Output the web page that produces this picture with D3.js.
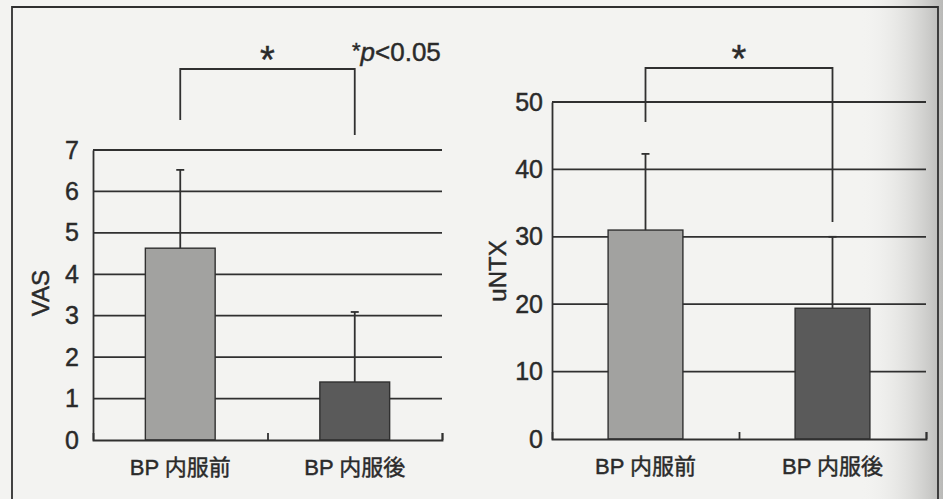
<!DOCTYPE html>
<html>
<head>
<meta charset="utf-8">
<script src="https://cdn.jsdelivr.net/npm/d3@7"></script>
<style>
  html, body { margin: 0; padding: 0; background: #f3f3f1; }
  svg { display: block; }
  text { font-family: "Liberation Sans", Arial, "Noto Sans CJK JP", sans-serif; fill: #2a2a2a; stroke: #2a2a2a; stroke-width: 0.45px; }
</style>
</head>
<body>
<div id="chart"></div>
<script>
// categories and values
const categories = ['BP 内服前', 'BP 内服後'];
const vasMean = [4.63, 1.40];
const vasUpper = [6.52, 3.09];   // mean + SD
const vasTicks = [0, 1, 2, 3, 4, 5, 6, 7];
const ntxMean = [31.0, 19.4];
const ntxUpper = [42.3, 30.0];
const ntxTicks = [0, 10, 20, 30, 40, 50];
const barColors = ['#a2a2a0', '#5a5a5a'];

let width = 943, height = 499;
let ink = '#303030';

let svg = d3.select('#chart')
.append('svg')
.attr('width', width)
.attr('height', height);

// shaded right edge of the scanned page
let defs = svg.append('defs');
let grad = defs.append('linearGradient').attr('id', 'shade');
grad.append('stop').attr('offset', '0%').attr('stop-color', '#f3f3f1').attr('stop-opacity', 0);
grad.append('stop').attr('offset', '100%').attr('stop-color', '#b9b9b7').attr('stop-opacity', 1);
svg.append('rect')
.attr('x', 860).attr('y', 0)
.attr('width', 83).attr('height', height)
.attr('fill', 'url(#shade)');

// outer frame
svg.append('path')
.attr('d', 'M12,' + height + 'V7H938V' + height)
.attr('fill', 'none')
.attr('stroke', ink)
.attr('stroke-width', 1.8);

// draws one bar panel
// cfg - left, right, top, bottom in px, domain max, data, ticks, label, bracket
function drawPanel(cfg) {
  let g = svg.append('g');

  let x = d3.scaleBand()
  .domain(categories)
  .range([cfg.left, cfg.right])
  .paddingInner(0.6)
  .paddingOuter(0.3);

  let xEdge = d3.scaleLinear()
  .domain([0, categories.length])
  .range([cfg.left, cfg.right]);

  let y = d3.scaleLinear()
  .domain([0, cfg.max])
  .range([cfg.bottom, cfg.top]);

  // gridlines
  g.selectAll('.grid')
  .data(cfg.ticks.slice(1))
  .enter()
  .append('line')
  .attr('x1', cfg.left)
  .attr('x2', cfg.right)
  .attr('y1', d => y(d))
  .attr('y2', d => y(d))
  .attr('stroke', ink)
  .attr('stroke-width', 1.8);

  // y axis
  let yAxis = g.append('g')
  .attr('transform', 'translate(' + cfg.left + ',0)')
  .call(d3.axisLeft(y).tickValues(cfg.ticks).tickFormat(d3.format('d')).tickSize(0).tickPadding(cfg.pad));
  yAxis.select('.domain').attr('stroke', ink).attr('stroke-width', 1.8);
  yAxis.selectAll('text')
  .style('font-size', '25px')
  .attr('fill', '#2a2a2a');

  // bars
  g.selectAll('.bar')
  .data(cfg.mean)
  .enter()
  .append('rect')
  .attr('x', (d, i) => x(categories[i]))
  .attr('y', d => y(d))
  .attr('width', x.bandwidth())
  .attr('height', d => y(0) - y(d))
  .attr('fill', (d, i) => barColors[i])
  .attr('stroke', ink)
  .attr('stroke-width', 1.4);

  // error bars (upper only)
  cfg.upper.forEach(function(u, i) {
    let cx = x(categories[i]) + x.bandwidth() / 2;
    g.append('line')
    .attr('x1', cx).attr('x2', cx)
    .attr('y1', y(cfg.mean[i])).attr('y2', y(u))
    .attr('stroke', ink).attr('stroke-width', 1.8);
    g.append('line')
    .attr('x1', cx - 4).attr('x2', cx + 4)
    .attr('y1', y(u)).attr('y2', y(u))
    .attr('stroke', ink).attr('stroke-width', 1.8);
  });

  // x axis with upward ticks at category edges
  let xAxis = g.append('g')
  .attr('transform', 'translate(0,' + cfg.bottom + ')')
  .call(d3.axisBottom(xEdge).tickValues([1, 2]).tickSize(-7).tickFormat(''));
  xAxis.select('.domain').attr('stroke', ink).attr('stroke-width', 1.8);
  xAxis.selectAll('.tick line').attr('stroke', ink).attr('stroke-width', 1.8);

  // category labels
  g.selectAll('.cat')
  .data(categories)
  .enter()
  .append('text')
  .attr('x', d => x(d) + x.bandwidth() / 2)
  .attr('y', cfg.bottom + 35)
  .attr('text-anchor', 'middle')
  .style('font-size', '22px')
  .text(d => d);

  // y label
  g.append('text')
  .attr('transform', 'translate(' + cfg.labelX + ',' + cfg.labelY + ') rotate(-90)')
  .attr('text-anchor', 'middle')
  .attr('dominant-baseline', 'central')
  .style('font-size', '24px')
  .text(cfg.label);

  // significance bracket
  let c0 = x(categories[0]) + x.bandwidth() / 2;
  let c1 = x(categories[1]) + x.bandwidth() / 2;
  let b = cfg.bracket;
  g.append('path')
  .attr('d', 'M' + c0 + ',' + b.leg0 + 'V' + b.top + 'H' + c1 + 'V' + b.leg1)
  .attr('fill', 'none')
  .attr('stroke', ink)
  .attr('stroke-width', 1.8);
  g.append('text')
  .attr('x', (c0 + c1) / 2)
  .attr('y', b.top + 4)
  .attr('text-anchor', 'middle')
  .style('font-size', '38px')
  .text('*');
}

drawPanel({
  left: 93, right: 442, top: 150, bottom: 440,
  max: 7, mean: vasMean, upper: vasUpper, ticks: vasTicks, pad: 14,
  label: 'VAS', labelX: 40, labelY: 293,
  bracket: { top: 69, leg0: 120, leg1: 135 }
});

drawPanel({
  left: 552, right: 926, top: 102, bottom: 439,
  max: 50, mean: ntxMean, upper: ntxUpper, ticks: ntxTicks, pad: 9,
  label: 'uNTX', labelX: 497, labelY: 271,
  bracket: { top: 68, leg0: 122, leg1: 222 }
});

// p-value note
let note = svg.append('text')
.attr('x', 352)
.attr('y', 61)
.style('font-size', '26px');
note.append('tspan').style('font-size', '22px').attr('dy', -3).text('*');
note.append('tspan').attr('dy', 3).style('font-style', 'italic').text('p');
note.append('tspan').text('<0.05');
</script>
</body>
</html>
